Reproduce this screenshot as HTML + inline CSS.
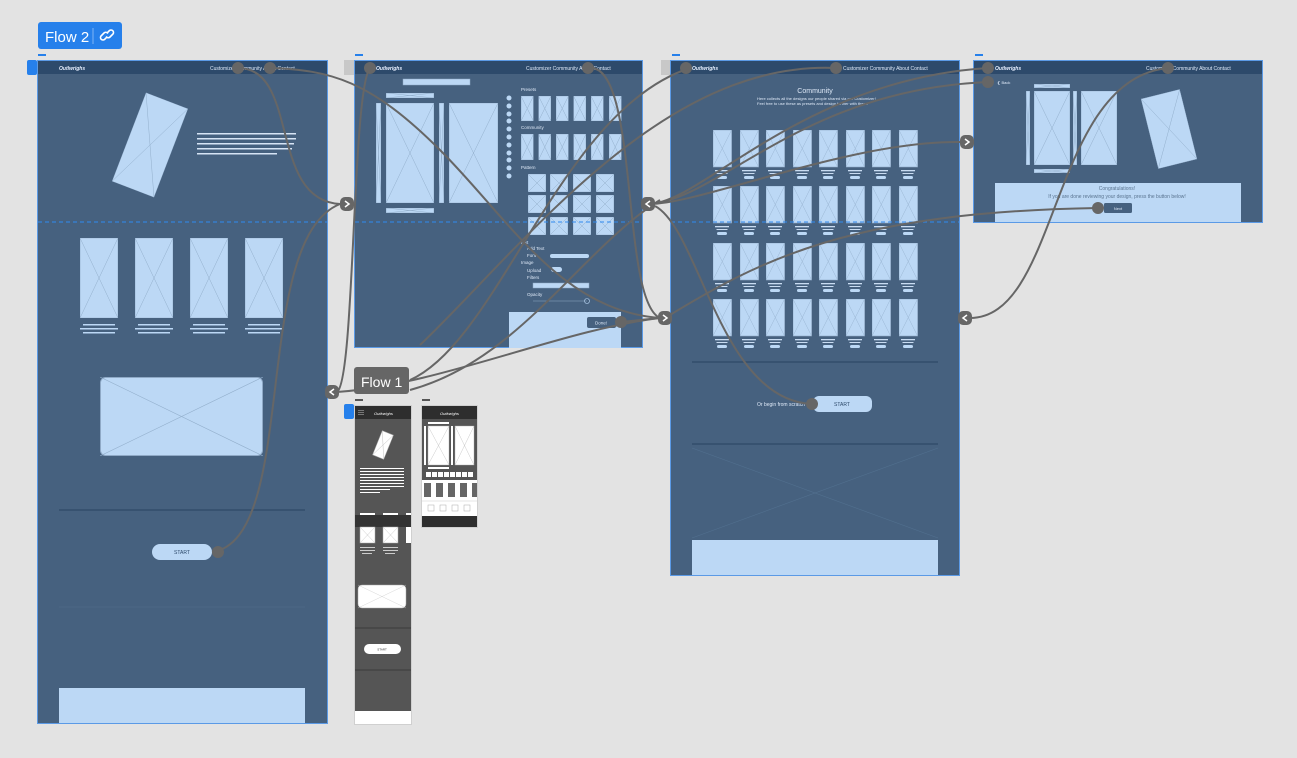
<!DOCTYPE html>
<html><head><meta charset="utf-8"><style>
html,body{margin:0;padding:0;background:#e3e3e3;}
svg{display:block;font-family:"Liberation Sans",sans-serif;}
</style></head><body>
<svg width="1297" height="758" viewBox="0 0 1297 758" xmlns="http://www.w3.org/2000/svg">
<defs>
<symbol id="ph" viewBox="0 0 10 10" preserveAspectRatio="none">
<rect x="0" y="0" width="10" height="10" fill="#bcd8f5" stroke="#8fa9c6" stroke-width="0.6" vector-effect="non-scaling-stroke"/>
<path d="M0 0L10 10M10 0L0 10" stroke="#93afcc" stroke-width="0.5" vector-effect="non-scaling-stroke"/>
</symbol>
<symbol id="card" viewBox="0 0 19 50" preserveAspectRatio="none">
<rect x="0" y="0" width="18.6" height="37" fill="#bcd8f5" stroke="#8fa9c6" stroke-width="0.6"/>
<path d="M0 0L18.6 37M18.6 0L0 37" stroke="#93afcc" stroke-width="0.4"/>
<rect x="2" y="40" width="14" height="1.3" fill="#c9dcf2"/>
<rect x="3.5" y="43" width="11" height="1" fill="#c9dcf2"/>
<rect x="4" y="46" width="10" height="3" rx="1.5" fill="#bcd8f5"/>
</symbol>
</defs>

<!-- Flow 2 label -->
<rect x="38" y="22" width="84" height="27" rx="3" fill="#2680eb"/>
<text x="45" y="42" font-size="15" fill="#fff">Flow 2</text>
<line x1="93" y1="28" x2="93" y2="44" stroke="#7fb3f5" stroke-width="1"/>
<g fill="none" stroke="#fff" stroke-width="1.6" stroke-linecap="round">
<path d="M106 38l-1.5 1.5a2.5 2.5 0 0 1-3.5-3.5l3-3a2.5 2.5 0 0 1 3.5 0"/>
<path d="M108 32l1.5-1.5a2.5 2.5 0 0 1 3.5 3.5l-3 3a2.5 2.5 0 0 1-3.5 0"/>
</g>

<!-- dots labels -->
<g fill="#2680eb"><rect x="38" y="54" width="8" height="2"/><rect x="355" y="54" width="8" height="2"/><rect x="672" y="54" width="8" height="2"/><rect x="975" y="54" width="8" height="2"/></g>
<g fill="#555"><rect x="355" y="399" width="8" height="2"/><rect x="422" y="399" width="8" height="2"/></g>
<rect x="27" y="60" width="10" height="15" rx="2" fill="#2680eb"/>
<rect x="344" y="404" width="10" height="15" rx="2" fill="#2680eb"/>
<rect x="344" y="60" width="10" height="15" fill="#c8c8c8"/>
<rect x="661" y="60" width="10" height="15" fill="#c8c8c8"/>

<!-- ============ FRAME 1 ============ -->
<rect x="37.5" y="60.5" width="290" height="663" fill="#46617f" stroke="#5b9ae6"/>
<rect x="38" y="61" width="289" height="13" fill="#2d4a6b"/>
<text x="59" y="70" font-size="5" fill="#e8f0ff" font-style="italic" font-weight="bold">Outlwrighs</text>
<text x="210" y="70" font-size="5" fill="#dde8f7">Customizer  Community  About  Contact</text>
<use href="#ph" x="0" y="0" width="45" height="95" transform="translate(150 145) rotate(21) translate(-22.5 -47.5)"/>
<g fill="#d6e4f5"><rect x="197" y="133" width="99" height="1.5"/><rect x="197" y="138" width="99" height="1.5"/><rect x="197" y="143" width="97" height="1.5"/><rect x="197" y="148" width="95" height="1.5"/><rect x="197" y="153" width="80" height="1.5"/></g>
<line x1="38" y1="222" x2="327" y2="222" stroke="#2f8af0" stroke-dasharray="4 3"/>
<use href="#ph" x="80" y="238" width="38" height="80"/>
<use href="#ph" x="135" y="238" width="38" height="80"/>
<use href="#ph" x="190" y="238" width="38" height="80"/>
<use href="#ph" x="245" y="238" width="38" height="80"/>
<g fill="#bcd8f5">
<rect x="83" y="324" width="32" height="1.5"/><rect x="80" y="328" width="38" height="1.5"/><rect x="83" y="332" width="32" height="1.5"/>
<rect x="138" y="324" width="32" height="1.5"/><rect x="135" y="328" width="38" height="1.5"/><rect x="138" y="332" width="32" height="1.5"/>
<rect x="193" y="324" width="32" height="1.5"/><rect x="190" y="328" width="38" height="1.5"/><rect x="193" y="332" width="32" height="1.5"/>
<rect x="248" y="324" width="32" height="1.5"/><rect x="245" y="328" width="38" height="1.5"/><rect x="248" y="332" width="32" height="1.5"/>
</g>
<svg x="100" y="377" width="163" height="79"><rect x="0.5" y="0.5" width="162" height="78" rx="5" fill="#bcd8f5" stroke="#8fa9c6"/><path d="M0 0L163 79M163 0L0 79" stroke="#93afcc" stroke-width="0.6"/></svg>
<line x1="59" y1="510" x2="305" y2="510" stroke="#2f4a68" stroke-width="1.2"/>
<rect x="152" y="544" width="60" height="16" rx="8" fill="#bcd8f5"/>
<text x="182" y="554" font-size="5" fill="#2d4a6b" text-anchor="middle">START</text>
<line x1="59" y1="607" x2="305" y2="607" stroke="#4c6785" stroke-width="1"/>
<rect x="59" y="688" width="246" height="35" fill="#bcd8f5"/>

<!-- ============ FRAME 2 ============ -->
<rect x="354.5" y="60.5" width="288" height="287" fill="#46617f" stroke="#5b9ae6"/>
<rect x="355" y="61" width="287" height="13" fill="#2d4a6b"/>
<text x="376" y="70" font-size="5" fill="#e8f0ff" font-style="italic" font-weight="bold">Outlwrighs</text>
<text x="526" y="70" font-size="5" fill="#dde8f7">Customizer   Community   About   Contact</text>
<rect x="403" y="79" width="67" height="6" fill="#bcd8f5" stroke="#8fa9c6" stroke-width="0.5"/>
<use href="#ph" x="386" y="93" width="48" height="5"/>
<use href="#ph" x="376" y="103" width="5" height="100"/>
<use href="#ph" x="386" y="103" width="48" height="100"/>
<use href="#ph" x="439" y="103" width="5" height="100"/>
<use href="#ph" x="449" y="103" width="49" height="100"/>
<use href="#ph" x="386" y="208" width="48" height="5"/>
<g fill="#bcd8f5"><circle cx="509" cy="98" r="2.5"/><circle cx="509" cy="106" r="2.5"/><circle cx="509" cy="114" r="2.5"/><circle cx="509" cy="121" r="2.5"/><circle cx="509" cy="129" r="2.5"/><circle cx="509" cy="137" r="2.5"/><circle cx="509" cy="145" r="2.5"/><circle cx="509" cy="153" r="2.5"/><circle cx="509" cy="160" r="2.5"/><circle cx="509" cy="168" r="2.5"/><circle cx="509" cy="176" r="2.5"/></g>
<g font-size="4.5" fill="#dde8f7">
<text x="521" y="91">Presets</text><text x="521" y="129">Community</text><text x="521" y="169">Pattern</text>
<text x="520" y="244">Text</text><text x="527" y="250">Add Text</text><text x="527" y="257">Font</text>
<text x="521" y="264">Image</text><text x="527" y="272">Upload</text><text x="527" y="279">Filters</text><text x="527" y="296">Opacity</text>
</g>
<use href="#ph" x="521" y="96" width="12.5" height="25"/><use href="#ph" x="538.5" y="96" width="12.5" height="25"/><use href="#ph" x="556" y="96" width="12.5" height="25"/><use href="#ph" x="573.5" y="96" width="12.5" height="25"/><use href="#ph" x="591" y="96" width="12.5" height="25"/><use href="#ph" x="609" y="96" width="12.5" height="25"/>
<use href="#ph" x="521" y="134" width="12.5" height="26"/><use href="#ph" x="538.5" y="134" width="12.5" height="26"/><use href="#ph" x="556" y="134" width="12.5" height="26"/><use href="#ph" x="573.5" y="134" width="12.5" height="26"/><use href="#ph" x="591" y="134" width="12.5" height="26"/><use href="#ph" x="609" y="134" width="12.5" height="26"/>
<g>
<use href="#ph" x="528" y="174" width="18" height="18"/><use href="#ph" x="550" y="174" width="18" height="18"/><use href="#ph" x="573" y="174" width="18" height="18"/><use href="#ph" x="596" y="174" width="18" height="18"/>
<use href="#ph" x="528" y="195" width="18" height="18"/><use href="#ph" x="550" y="195" width="18" height="18"/><use href="#ph" x="573" y="195" width="18" height="18"/><use href="#ph" x="596" y="195" width="18" height="18"/>
<use href="#ph" x="528" y="217" width="18" height="18"/><use href="#ph" x="550" y="217" width="18" height="18"/><use href="#ph" x="573" y="217" width="18" height="18"/><use href="#ph" x="596" y="217" width="18" height="18"/>
</g>
<line x1="355" y1="222" x2="642" y2="222" stroke="#2f8af0" stroke-dasharray="4 3"/>
<rect x="550" y="254" width="39" height="4" rx="2" fill="#bcd8f5"/>
<rect x="551" y="267" width="11" height="5" rx="2.5" fill="#bcd8f5"/>
<rect x="533" y="283" width="56" height="5" fill="#bcd8f5" stroke="#8fa9c6" stroke-width="0.5"/>
<line x1="533" y1="301" x2="587" y2="301" stroke="#8fa9c6" stroke-width="0.6"/>
<circle cx="587" cy="301" r="2.5" fill="none" stroke="#bcd8f5" stroke-width="0.6"/>
<rect x="509" y="312" width="112" height="36" fill="#bcd8f5"/>
<rect x="587" y="317" width="29" height="11" rx="2" fill="#46617f"/>
<text x="601" y="324.5" font-size="4.5" fill="#dde8f7" text-anchor="middle">Done!</text>

<!-- ============ FRAME 3 ============ -->
<rect x="670.5" y="60.5" width="289" height="515" fill="#46617f" stroke="#5b9ae6"/>
<rect x="671" y="61" width="288" height="13" fill="#2d4a6b"/>
<text x="692" y="70" font-size="5" fill="#e8f0ff" font-style="italic" font-weight="bold">Outlwrighs</text>
<text x="843" y="70" font-size="5" fill="#dde8f7">Customizer   Community   About   Contact</text>
<text x="815" y="93" font-size="7" fill="#dde8f7" text-anchor="middle">Community</text>
<text x="757" y="100" font-size="4" fill="#dde8f7">Here collects all the designs our people shared via our Customizer!</text>
<text x="757" y="105" font-size="4" fill="#dde8f7">Feel free to use these as presets and design further with them!</text>
<g>
<use href="#card" x="713" y="130" width="19" height="50"/><use href="#card" x="740" y="130" width="19" height="50"/><use href="#card" x="766" y="130" width="19" height="50"/><use href="#card" x="793" y="130" width="19" height="50"/><use href="#card" x="819" y="130" width="19" height="50"/><use href="#card" x="846" y="130" width="19" height="50"/><use href="#card" x="872" y="130" width="19" height="50"/><use href="#card" x="899" y="130" width="19" height="50"/>
<use href="#card" x="713" y="186" width="19" height="50"/><use href="#card" x="740" y="186" width="19" height="50"/><use href="#card" x="766" y="186" width="19" height="50"/><use href="#card" x="793" y="186" width="19" height="50"/><use href="#card" x="819" y="186" width="19" height="50"/><use href="#card" x="846" y="186" width="19" height="50"/><use href="#card" x="872" y="186" width="19" height="50"/><use href="#card" x="899" y="186" width="19" height="50"/>
<use href="#card" x="713" y="243" width="19" height="50"/><use href="#card" x="740" y="243" width="19" height="50"/><use href="#card" x="766" y="243" width="19" height="50"/><use href="#card" x="793" y="243" width="19" height="50"/><use href="#card" x="819" y="243" width="19" height="50"/><use href="#card" x="846" y="243" width="19" height="50"/><use href="#card" x="872" y="243" width="19" height="50"/><use href="#card" x="899" y="243" width="19" height="50"/>
<use href="#card" x="713" y="299" width="19" height="50"/><use href="#card" x="740" y="299" width="19" height="50"/><use href="#card" x="766" y="299" width="19" height="50"/><use href="#card" x="793" y="299" width="19" height="50"/><use href="#card" x="819" y="299" width="19" height="50"/><use href="#card" x="846" y="299" width="19" height="50"/><use href="#card" x="872" y="299" width="19" height="50"/><use href="#card" x="899" y="299" width="19" height="50"/>
</g>
<line x1="671" y1="222" x2="959" y2="222" stroke="#2f8af0" stroke-dasharray="4 3"/>
<line x1="692" y1="362" x2="938" y2="362" stroke="#2f4a68" stroke-width="1.2"/>
<text x="757" y="406" font-size="5" fill="#dde8f7">Or begin from scratch</text>
<rect x="813" y="396" width="59" height="16" rx="6" fill="#bcd8f5"/>
<text x="842" y="406" font-size="5" fill="#2d4a6b" text-anchor="middle">START</text>
<line x1="692" y1="444" x2="938" y2="444" stroke="#2f4a68" stroke-width="1.2"/>
<path d="M692 448L938 538M938 448L692 538" stroke="#52708f" stroke-width="0.6"/>
<rect x="692" y="540" width="246" height="35" fill="#bcd8f5"/>

<!-- ============ FRAME 4 ============ -->
<rect x="973.5" y="60.5" width="289" height="162" fill="#46617f" stroke="#5b9ae6"/>
<rect x="974" y="61" width="288" height="13" fill="#2d4a6b"/>
<text x="995" y="70" font-size="5" fill="#e8f0ff" font-style="italic" font-weight="bold">Outlwrighs</text>
<text x="1146" y="70" font-size="5" fill="#dde8f7">Customizer  Community   About   Contact</text>
<text x="997" y="84" font-size="4" fill="#dde8f7">❮ Back</text>
<use href="#ph" x="1034" y="84" width="36" height="4"/>
<use href="#ph" x="1026" y="91" width="4" height="74"/>
<use href="#ph" x="1034" y="91" width="36" height="74"/>
<use href="#ph" x="1073" y="91" width="4" height="74"/>
<use href="#ph" x="1081" y="91" width="36" height="74"/>
<use href="#ph" x="1034" y="169" width="36" height="4"/>
<use href="#ph" x="0" y="0" width="40" height="72" transform="translate(1169 129) rotate(-14) translate(-20 -36)"/>
<rect x="995" y="183" width="246" height="39" fill="#bcd8f5"/>
<text x="1117" y="190" font-size="5" fill="#5a7490" text-anchor="middle">Congratulations!</text>
<text x="1117" y="198" font-size="5" fill="#5a7490" text-anchor="middle">If you are done reviewing your design, press the button below!</text>
<rect x="1104" y="203" width="28" height="10" rx="1.5" fill="#46617f"/>
<text x="1118" y="210" font-size="4" fill="#dde8f7" text-anchor="middle">Next</text>

<!-- ============ MOBILE 1 ============ -->
<rect x="354.5" y="405.5" width="57" height="319" fill="#fff" stroke="#d0d0d0"/>
<rect x="355" y="406" width="56" height="305" fill="#555"/>
<rect x="355" y="406" width="56" height="13" fill="#2e2e2e"/>
<g fill="#888"><rect x="358" y="410" width="6" height="0.8"/><rect x="358" y="412" width="6" height="0.8"/><rect x="358" y="414" width="6" height="0.8"/></g>
<text x="374" y="415" font-size="4" fill="#fff" font-style="italic">Outlwrighs</text>
<svg x="370" y="428" width="26" height="34"><g transform="rotate(22 13 17)"><rect x="7" y="4" width="12" height="26" fill="#fff" stroke="#aaa" stroke-width="0.5"/><path d="M7 4L19 30M19 4L7 30" stroke="#bbb" stroke-width="0.4"/></g></svg>
<g fill="#fff"><rect x="360" y="468" width="44" height="1"/><rect x="360" y="471" width="44" height="1"/><rect x="360" y="474" width="44" height="1"/><rect x="360" y="477" width="44" height="1"/><rect x="360" y="480" width="44" height="1"/><rect x="360" y="483" width="44" height="1"/><rect x="360" y="486" width="44" height="1"/><rect x="360" y="489" width="30" height="1"/><rect x="360" y="492" width="20" height="1"/></g>
<rect x="355" y="515" width="56" height="12" fill="#333"/>
<g fill="#fff"><rect x="360" y="513" width="15" height="2"/><rect x="383" y="513" width="15" height="2"/><rect x="406" y="513" width="5" height="2"/></g>
<rect x="360" y="527" width="15" height="16" fill="#fff" stroke="#aaa" stroke-width="0.5"/><path d="M360 527L375 543M375 527L360 543" stroke="#bbb" stroke-width="0.4"/>
<rect x="383" y="527" width="15" height="16" fill="#fff" stroke="#aaa" stroke-width="0.5"/><path d="M383 527L398 543M398 527L383 543" stroke="#bbb" stroke-width="0.4"/>
<rect x="406" y="527" width="5" height="16" fill="#fff"/>
<g fill="#ccc"><rect x="360" y="547" width="15" height="1"/><rect x="360" y="550" width="15" height="1"/><rect x="362" y="553" width="10" height="1"/><rect x="383" y="547" width="15" height="1"/><rect x="383" y="550" width="15" height="1"/><rect x="385" y="553" width="10" height="1"/></g>
<rect x="358" y="585" width="48" height="23" rx="4" fill="#fff" stroke="#aaa" stroke-width="0.5"/><path d="M358 585L406 608M406 585L358 608" stroke="#ccc" stroke-width="0.4"/>
<line x1="355" y1="628" x2="411" y2="628" stroke="#3a3a3a" stroke-width="1"/>
<rect x="364" y="644" width="37" height="10" rx="5" fill="#fff"/>
<text x="382" y="650.5" font-size="3" fill="#333" text-anchor="middle">START</text>
<line x1="355" y1="670" x2="411" y2="670" stroke="#3a3a3a" stroke-width="1"/>

<!-- ============ MOBILE 2 ============ -->
<rect x="421.5" y="405.5" width="56" height="122" fill="#fff" stroke="#d0d0d0"/>
<rect x="422" y="406" width="55" height="13" fill="#2e2e2e"/>
<text x="440" y="415" font-size="4" fill="#fff" font-style="italic">Outlwrighs</text>
<rect x="422" y="419" width="55" height="61" fill="#555"/>
<g fill="#fff"><rect x="428" y="422" width="21" height="2"/><rect x="428" y="467" width="21" height="2"/><rect x="424" y="426" width="2" height="39"/><rect x="451" y="426" width="2" height="39"/></g>
<rect x="428" y="426" width="21" height="39" fill="#fff" stroke="#aaa" stroke-width="0.4"/><path d="M428 426L449 465M449 426L428 465" stroke="#bbb" stroke-width="0.4"/>
<rect x="455" y="426" width="19" height="39" fill="#fff" stroke="#aaa" stroke-width="0.4"/><path d="M455 426L474 465M474 426L455 465" stroke="#bbb" stroke-width="0.4"/>
<g fill="#fff"><rect x="426" y="472" width="5" height="5"/><rect x="432" y="472" width="5" height="5"/><rect x="438" y="472" width="5" height="5"/><rect x="444" y="472" width="5" height="5"/><rect x="450" y="472" width="5" height="5"/><rect x="456" y="472" width="5" height="5"/><rect x="462" y="472" width="5" height="5"/><rect x="468" y="472" width="5" height="5"/></g>
<g fill="#666"><rect x="424" y="483" width="7" height="14"/><rect x="436" y="483" width="7" height="14"/><rect x="448" y="483" width="7" height="14"/><rect x="460" y="483" width="7" height="14"/><rect x="472" y="483" width="5" height="14"/></g>
<line x1="422" y1="501" x2="477" y2="501" stroke="#ccc" stroke-width="0.6"/>
<g fill="none" stroke="#aaa" stroke-width="0.5"><rect x="428" y="505" width="6" height="6"/><rect x="440" y="505" width="6" height="6"/><rect x="452" y="505" width="6" height="6"/><rect x="464" y="505" width="6" height="6"/></g>
<rect x="422" y="516" width="55" height="11" fill="#2e2e2e"/>

<!-- ============ CONNECTORS ============ -->
<g fill="none" stroke="#666" stroke-width="2">
<path d="M238 68C300 68 268 200 340 204"/>
<path d="M270 68C330 70 370 80 440 150S560 310 660 318"/>
<path d="M212 552C300 540 250 240 340 204"/>
<path d="M337 392C355 380 352 90 370 68"/>
<path d="M337 392C440 385 560 330 660 318"/>
<path d="M410 380C500 340 560 110 690 68"/>
<path d="M410 390C520 360 580 250 660 200"/>
<path d="M420 345C520 250 660 60 836 68"/>
<path d="M588 68C640 60 620 300 660 318"/>
<path d="M621 322L660 318"/>
<path d="M648 204C700 205 800 80 988 68"/>
<path d="M648 204C720 200 800 90 988 82"/>
<path d="M648 204C700 205 850 140 962 142"/>
<path d="M655 206C700 230 720 400 812 404"/>
<path d="M665 318C760 260 850 212 1098 208"/>
<path d="M970 318C1060 318 1050 80 1168 68"/>
</g>
<!-- handle nodes -->
<g fill="#666">
<circle cx="238" cy="68" r="6"/><circle cx="270" cy="68" r="6"/><circle cx="370" cy="68" r="6"/><circle cx="588" cy="68" r="6"/>
<circle cx="686" cy="68" r="6"/><circle cx="836" cy="68" r="6"/><circle cx="988" cy="68" r="6"/><circle cx="988" cy="82" r="6"/><circle cx="1168" cy="68" r="6"/>
<circle cx="1098" cy="208" r="6"/><circle cx="621" cy="322" r="6"/><circle cx="218" cy="552" r="6"/><circle cx="812" cy="404" r="6"/>
<rect x="340" y="197" width="14" height="14" rx="5"/><rect x="325" y="385" width="14" height="14" rx="5"/>
<rect x="641" y="197" width="14" height="14" rx="5"/><rect x="658" y="311" width="14" height="14" rx="5"/>
<rect x="960" y="135" width="14" height="14" rx="5"/><rect x="958" y="311" width="14" height="14" rx="5"/>
</g>
<g fill="none" stroke="#fff" stroke-width="1.5">
<path d="M345 201L349 204L345 207"/><path d="M334 389L330 392L334 395"/>
<path d="M650 201L646 204L650 207"/><path d="M663 315L667 318L663 321"/>
<path d="M965 139L969 142L965 145"/><path d="M967 315L963 318L967 321"/>
</g>
<!-- Flow 1 label -->
<rect x="354" y="367" width="55" height="27" rx="3" fill="#666"/>
<text x="361" y="387" font-size="14" fill="#fff">Flow 1</text>
</svg>
</body></html>
